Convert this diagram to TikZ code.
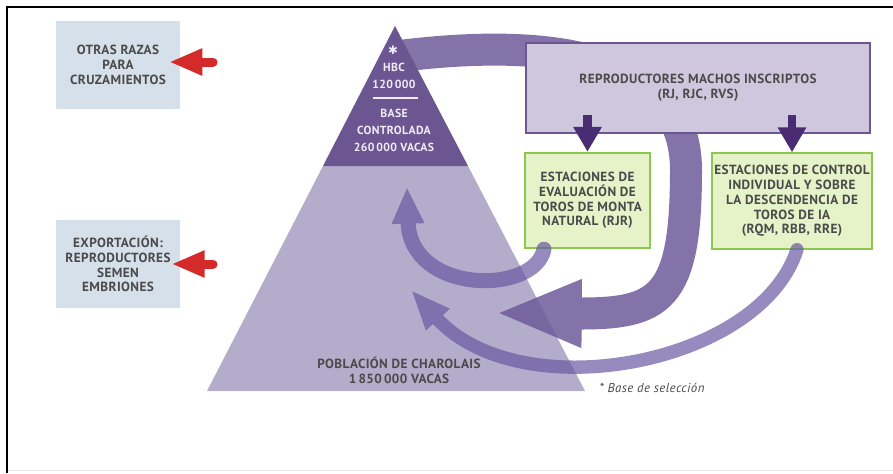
\documentclass[tikz,border=0pt]{standalone}
\usepackage{fontspec}
\setmainfont{PT Sans}[LetterSpace=3]
\newfontfamily\simbolo{DejaVu Sans}
\usetikzlibrary{arrows.meta}
\definecolor{cielo}{HTML}{D6E0EB}
\definecolor{rojo}{HTML}{D42A2A}
\definecolor{lila}{HTML}{B4ACCB}
\definecolor{hbc}{HTML}{6B5691}
\definecolor{malva}{HTML}{6E5A9A}
\definecolor{lavanda}{HTML}{6958A2}
\definecolor{morado}{HTML}{4A2C72}
\definecolor{machos}{HTML}{CFC7DE}
\definecolor{pasto}{HTML}{E6F2C8}
\definecolor{borde}{HTML}{8CC850}
\definecolor{letra}{HTML}{4A4A4A}
\definecolor{nieve}{HTML}{F0EBF5}
\newcommand{\tF}{\bfseries\fontsize{11.3}{12.6}\selectfont}
\newcommand{\tP}{\bfseries\fontsize{10}{14.5}\selectfont}

\begin{document}
\begin{tikzpicture}[x=0.03cm,y=-0.03cm,
  every node/.style={font=\tF,text=letra,align=center,inner sep=0pt},
  caja/.style={fill=cielo,minimum width=3.69cm,minimum height=2.64cm},
  estacion/.style={fill=pasto,draw=borde,line width=0.06cm,minimum height=2.86cm},
  roja/.style={draw=rojo,line width=0.27cm,line cap=round,-{Triangle[width=0.75cm,length=1cm]}},
  clara/.style={draw=lavanda,line cap=round},
  banda/.style={draw=malva,line width=0.96cm,-{Triangle[width=1.85cm,length=2.6cm]}},
  bajada/.style={draw=morado,line width=0.25cm,-{Triangle[width=0.81cm,length=0.75cm]}}]
  \useasboundingbox (0,0) rectangle (893,473);
  \draw[black!8] (7,470) -- (893,470);
  \draw[line width=0.07cm] (7,473) -- (7,7) -- (893,7);

  \node[caja] (otras) at (118,65) {OTRAS RAZAS\\PARA\\CRUZAMIENTOS};
  \node[caja] (expo) at (118,264) {EXPORTACIÓN:\\REPRODUCTORES\\SEMEN\\EMBRIONES};
  \draw[roja] ([xshift=1cm,yshift=0.09cm]otras.east) -- ([xshift=-0.32cm,yshift=0.09cm]otras.east);
  \draw[roja] ([xshift=1cm]expo.east) -- ([xshift=-0.25cm]expo.east);

  \fill[lila] (207,391) -- (585,391) -- (468,166) -- (323,166) -- cycle;
  \node[estacion,minimum width=3.75cm] (rjr) at (587.5,200.5)
    {ESTACIONES DE\\EVALUACIÓN DE\\TOROS DE MONTA\\NATURAL (RJR)};
  \node[estacion,minimum width=4.8cm] (rqm) at (792,201)
    {ESTACIONES DE CONTROL\\INDIVIDUAL Y SOBRE\\LA DESCENDENCIA DE\\TOROS DE IA\\(RQM, RBB, RRE)};

  \coordinate (cima) at (400,56);
  \coordinate (retorno) at (495,313);
  \coordinate (subeA) at (407,187);
  \coordinate (subeB) at (411,290);
  \begin{scope}[transparency group,opacity=0.7]
    \draw[clara,line width=0.45cm,-{Triangle[width=0.9cm,length=1.1cm]}]
      ([xshift=0.6cm]rjr.south west) .. controls (535,295) and (410,295) .. (subeA);
  \end{scope}
  \begin{scope}[transparency group,opacity=0.7]
    \draw[clara,line width=0.4cm,-{Triangle[width=0.87cm,length=1.2cm]}]
      ([xshift=0.15cm]rqm.south) .. controls (760,365) and (520,410) .. (subeB);
  \end{scope}
  \begin{scope}[transparency group,opacity=0.85]
    \draw[banda] (cima) .. controls (560,36) and (686,60) .. (686,170)
      .. controls (686,300) and (660,314) .. (retorno);
  \end{scope}

  \fill[hbc] (395,26) -- (468,166) -- (323,166) -- cycle;
  \draw[nieve,line width=0.06cm] (373,98) -- (418,98);
  \node[text=nieve,font=\simbolo\fontsize{10}{10}\selectfont] (ast) at (393,50) {✱};
  \node[text=nieve,font=\tP] (hbcnum) at (394,76) {HBC\\120\,000};
  \node[text=nieve,font=\tP] (base) at (394,130) {BASE\\CONTROLADA\\260\,000 VACAS};

  \node[fill=machos,draw=morado!80,line width=0.04cm,minimum width=10.32cm,minimum height=2.7cm]
    (machos) at (698,88) {REPRODUCTORES MACHOS INSCRIPTOS\\(RJ, RJC, RVS)};
  \draw[bajada] ([yshift=1.11cm]rjr.north) -- (rjr.north);
  \draw[bajada] ([yshift=1.11cm]rqm.north) -- (rqm.north);

  \node (pobl) at (399,370) {POBLACIÓN DE CHAROLAIS\\1\,850\,000 VACAS};
  \node[font=\itshape\fontsize{11}{13}\selectfont] (nota) at (652,388) {* Base de selección};
\end{tikzpicture}
\end{document}
